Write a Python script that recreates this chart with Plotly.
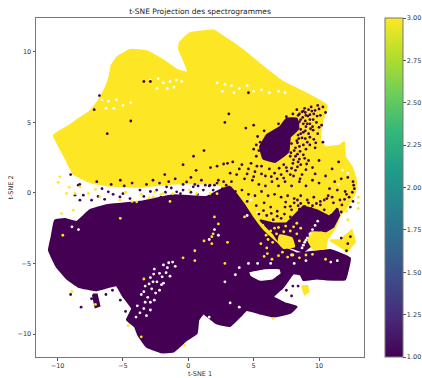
import plotly.graph_objects as go

# t-SNE clouds: outline vertices (x, y) in data units
yellow_outline = [(-10.28,4.08),(-9.06,4.79),(-8.29,5.3),(-7.5,5.8),(-6.9,6.5),(-6.3,7.5),(-6.0,8.33),(-5.87,9.03),(-5.43,9.62),
 (-4.46,10.14),(-3.19,10.05),(-1.91,9.39),(-0.89,8.73),(0.0,8.51),(-0.33,9.39),(-0.71,10.21),(-0.64,10.68),(0.13,11.32),
 (1.91,11.51),(2.93,10.92),(4.21,10.09),(5.74,8.92),(7.27,7.85),(9.06,7.03),(10.59,6.2),(10.2,4.91),(10.08,3.73),(10.46,3.25),
 (11.61,3.37),(11.91,3.61),(11.99,2.55),(12.5,1.84),(12.83,0.9),(12.76,0.0),(12.12,-0.99),(11.6,-1.6),(11.2,-2.5),(10.6,-3.3),
 (9.57,-3.82),(8.29,-3.94),(6.6,-3.7),(5.6,-2.8),(4.5,-1.6),(3.19,0.31),(1.9,0.67),(-1.15,0.67),(-3.7,0.43),(-6.25,0.55),(-7.52,0.78),(-8.8,1.37),
 (-9.44,2.55)]
purple_outline = [(-10.66,-4.06),(-10.45,-3.1),(-10.2,-1.95),(-9.44,-1.85),(-8.54,-2.05),(-7.52,-1.22),(-6.25,-0.87),(-3.7,-0.63),(-1.15,-0.16),(1.4,-0.28),
 (2.3,0.15),(3.19,0.43),(4.21,-0.75),(4.97,-1.82),(5.7,-2.7),(6.76,-3.58),(8.29,-4.29),(10.84,-4.05),(11.86,-4.4),(12.37,-4.64),
 (12.23,-5.35),(11.99,-6.13),(10.59,-6.13),(9.82,-6.06),(8.8,-6.18),(8.6,-5.8),(8.04,-5.7),
 (7.27,-6.65),(6.5,-7.36),(7.4,-7.83),(8.29,-8.07),(7.8,-8.5),(6.5,-8.77),(5.48,-8.54),(4.46,-8.3),(3.95,-8.77),(3.19,-9.43),
 (2.17,-9.25),(1.15,-8.54),(0.77,-9.0),(0.64,-9.95),(-0.13,-10.42),(-1.15,-11.25),(-2.04,-11.3),(-3.19,-10.9),(-3.83,-10.07),
 (-4.08,-9.48),(-4.7,-9.0),(-4.3,-8.2),(-5.0,-7.3),(-5.5,-6.55),(-7.0,-6.9),(-8.4,-6.65),(-9.3,-6.06),(-10.07,-5.23)]
purple_core = [(5.49,3.26),(6.0,4.09),(7.02,4.68),(7.53,5.27),(8.29,5.27),(8.42,4.56),(7.78,3.97),(7.65,2.91),(6.63,2.2),(5.74,2.44)]
purple_mid = [(5.49,-1.93),(6.51,-2.17),(7.53,-2.17),(8.29,-1.46),(8.8,-0.95),(9.82,-1.23),(10.84,-1.7),(11.4,-1.1),(11.55,-1.6),
 (11.1,-2.4),(10.46,-2.76),(10.08,-2.64),(9.57,-3.58),(8.8,-4.17),(8.04,-3.94),(7.02,-3.58),(6.51,-2.88)]
purple_hook = [(-7.3,-7.2),(-7.0,-7.2),(-6.8,-8.0),(-7.1,-8.1)]
yellow_patch = [(8.7,-6.6),(9.1,-6.6),(9.2,-7.0),(8.9,-7.2)]
yellow_blob_a = [(7.0,-3.0),(7.9,-3.2),(8.1,-3.8),(7.3,-3.9),(6.9,-3.5)]
yellow_blob_b = [(9.4,-2.8),(10.6,-2.9),(10.5,-3.9),(9.6,-4.0),(9.2,-3.4)]
yellow_hook = [(10.84,-3.35),(11.6,-3.35),(12.5,-2.64),(12.76,-3.47),(12.12,-4.17),(11.86,-3.94)]
purple_hole = [(4.59,-5.59),(4.72,-5.94),(5.48,-6.3),(6.5,-6.18),(7.14,-5.71),(7.02,-5.35),(5.74,-5.35)]

purple_dots = [(8.3,5.9),(8.9,6.0),(9.4,6.1),(9.9,6.2),(10.3,6.1),(10.5,5.7),(10.1,5.5),(9.6,5.6),(9.0,5.5),(8.6,5.2),(9.3,5.2),(9.8,5.0),
 (10.2,4.8),(9.5,4.7),(9.0,4.7),(8.6,4.5),(9.2,4.2),(9.9,4.2),(9.6,3.8),(9.1,3.6),(8.7,3.9),(8.5,3.3),(9.0,3.1),(9.7,3.2),(10.3,3.6),
 (8.8,2.7),(8.2,2.6),(8.0,2.1),(8.6,2.0),(9.2,2.3),(8.2,1.6),(7.8,1.3),(8.7,1.3),(9.5,1.8),(10.0,2.3),(7.5,1.8),(7.1,1.3),(6.6,1.4),
 (6.2,1.7),(5.9,1.2),(5.5,3.6),(5.3,4.0),(5.8,4.4),(6.9,4.9),(7.5,5.4),(8.0,5.6),(7.9,4.6),(8.4,5.5),(8.8,5.8),(9.2,5.9),(8.4,4.9),(8.8,4.9),
 (9.3,4.9),(8.4,4.1),(8.8,4.3),(8.3,3.7),(8.8,3.4),(7.9,3.5),(8.1,3.0),(7.8,2.6),(8.5,2.4),
 (8.5,5.6),(8.7,5.75),(8.95,5.7),(9.15,5.45),(9.45,5.8),(9.7,5.85),(9.85,5.45),(10.0,5.95),(9.3,5.55),(8.75,5.35),(8.5,5.05),(8.95,5.1),(9.1,4.9),(9.55,5.2),
 (9.35,4.55),(8.95,4.4),(8.6,4.2),(8.45,3.85),(8.95,3.85),(9.3,3.95),(9.55,4.45),(10.0,4.65),(9.75,3.55),(9.3,3.4),(8.35,3.55),(8.55,2.95),(8.2,3.2),(8.35,2.75),
 (8.05,2.35),(7.85,2.85),(8.4,2.2),(8.9,2.45),(9.05,2.05),(8.35,1.85),(7.9,1.75),(8.05,1.2),(7.55,1.55),(7.3,2.0),(6.95,1.75),(7.3,1.05),(6.8,1.0),(6.35,1.15),
 (8.55,1.0),(9.0,1.65),(9.7,1.35),(5.6,1.35),(5.25,1.9),(5.0,1.15),(4.5,1.35),(3.9,1.7),(4.8,2.1),(5.2,2.6),(5.0,3.1),(5.4,3.0),(5.2,3.4),
 (1.7,1.8),(2.2,1.9),(2.7,2.05),(3.0,2.1),(3.4,2.2),(0.4,2.6),(1.2,3.0),(2.8,5.0),(4.4,4.6),(5.0,4.8),(3.1,5.6),(4.6,7.1),(-2.9,7.9),(-3.4,7.9),
 (-6.8,6.9),(-7.2,5.9),(-4.4,5.1),(-6.2,4.2),(-5.2,0.9),(-7.0,0.8),(-8.3,0.6),(-9.0,1.3),(-1.8,1.3),(-0.4,2.0),(0.6,1.6),
 (-2.7,0.9),(-2.2,0.7),(-1.5,0.8),(-1.0,1.0),(-0.4,0.6),(0.2,1.1),(0.5,0.6),(1.0,0.9),(1.6,0.5),(2.2,0.7),(2.7,0.8),(3.3,0.8),(3.7,1.3),(3.2,1.4),
 (-8.67,-0.16),(-8.42,0.55),(-8.03,-0.16),(-7.4,-0.51),(-8.29,-0.51),(-7.52,-1.34),(-6.12,0.08),(-5.23,-0.28),(-3.7,0.2),(-4.46,-0.4),(-1.66,0.43),(-0.13,0.78),
 (0.38,0.43),(1.66,0.55),(-2.42,0.2),(-0.89,0.08),(1.15,0.2),(2.3,0.9),(-2.9,0.1),(-1.3,0.35),(-0.4,0.2),(0.75,0.5),(1.9,0.2),(2.6,0.3),(-6.6,0.3),(-5.9,0.6),(-4.9,0.5),(-4.3,0.7),(-3.2,0.6),
 (-6.9,-0.25),(-6.4,-0.45),(-5.75,-0.1),(-5.0,-0.05),(-3.4,-0.25),(-2.1,-0.3),(-1.75,0.05),(-0.6,-0.05),(0.2,0.05),(0.7,-0.1),(1.3,0.55),(2.0,0.55),(2.9,0.55),
 (4.1,2.0),(4.6,1.7),(5.1,1.5),(5.6,1.9),(4.3,1.0),(4.9,0.9),(5.4,0.6),(5.9,0.5),(6.4,0.8),(6.9,0.5),(7.4,0.8),(7.9,0.5),(8.5,0.8),(9.0,0.5),(9.5,0.9),(10.0,0.7),
 (10.5,1.2),(11.0,1.7),(11.5,2.2),(11.2,0.8),(11.7,1.0),(12.2,1.1),(12.6,0.8),(12.65,0.55),(12.7,0.3),(12.55,0.05),(10.8,0.3),(11.4,0.2),(12.0,0.1),
 (3.6,0.1),(4.1,0.2),(4.6,-0.1),(5.1,-0.2),(5.6,0.1),(6.1,-0.2),(6.6,-0.1),(7.1,-0.3),(7.6,-0.2),(8.1,-0.4),(8.6,-0.2),(9.1,-0.5),(9.6,-0.3),(10.1,-0.6),(10.6,-0.4),(11.1,-0.7),(11.6,-0.5),
 (8.1,-0.7),(8.35,-0.5),(8.6,-0.75),(8.9,-0.95),(9.2,-0.7),(9.5,-0.9),(9.8,-0.75),(10.1,-0.85),(10.4,-0.5),(10.7,-0.2),(11.0,-0.3),(8.5,-1.15),(7.8,-0.95),(7.45,-0.65),
 (4.5,-0.6),(5.2,-0.9),(5.8,-0.7),(6.3,-1.0),(6.8,-1.3),(7.4,-1.0),(7.9,-1.2),(8.4,-0.9),(8.9,-1.4),(9.4,-1.1),(9.9,-1.5),(10.4,-1.2),(10.9,-1.6),(11.4,-1.4),
 (6.0,-1.6),(6.5,-1.9),(7.1,-1.8),(7.6,-2.2),(5.4,-1.5),(5.75,-1.25),(6.35,-1.45),(6.8,-1.65),(7.35,-1.5),(7.8,-1.7),(12.4,-1.0),(12.6,-0.6),(12.3,-0.3),
 (11.75,-0.85),(11.95,-0.45),(12.1,-0.1),(11.7,-1.35),
 (12.2,-3.6),(12.4,-3.1),(12.1,-4.1),(11.7,-3.2),
 (-9.0,-7.2),(-8.2,-8.1),(-7.4,-7.5),(-6.3,-7.2),(-5.8,-6.9),(-5.2,-7.6),(-4.8,-8.4),(-4.6,-8.9),(7.9,-7.3),(7.5,-6.9),(7.1,-6.8),(8.0,-6.6),(8.4,-6.6)]
yellow_dots = [(4.3,-1.7),(2.0,-1.7),(1.9,-2.9),(2.3,-2.2),(1.8,-3.1),(1.2,-3.4),(0.5,-4.1),(-0.4,-4.6),(0.5,-4.8),(1.8,-3.6),
 (3.0,-3.5),(-5.2,-1.8),(-9.6,-3.0),(-3.4,-6.1),(-4.6,-9.4),(-3.6,-10.2),(-0.3,-10.8),(6.5,-8.9),(-7.1,-7.9),(-8.9,-7.0),
 (-9.82,1.14),(-9.31,-0.04),(-8.67,-0.04),(-9.69,-1.46),(-8.8,-1.22),(-7.65,-0.04),(-6.76,-0.28),(-5.23,-0.51),(-3.95,-0.63),(-2.68,-0.28),(-1.91,-0.04),(0.64,-0.04),(1.66,-0.04),(-2.55,0.08),(-8.3,0.43),
 (-9.95,0.75),(-9.1,0.4),(-7.1,0.25),(-4.8,0.05),(-3.0,-0.35),(-1.2,-0.05),(0.1,0.2),(2.2,-0.05),
 (6.3,-2.7),(6.0,-3.9),(5.8,-4.5),(6.4,-4.7),(7.2,-4.2),(8.0,-4.4),(9.0,-4.4),(10.5,-4.7),(5.7,-2.3),(5.95,-3.0),(6.6,-2.5),(6.1,-3.3),(7.3,-2.75),(6.75,-2.9),(7.8,-2.7),(8.3,-2.9),(8.6,-2.5),(8.5,-3.4),
 (5.55,-3.6),(5.95,-2.65),(6.45,-3.5),(6.9,-2.45),(7.45,-2.35),(8.05,-2.4),(8.3,-2.15),(6.05,-4.3),(6.9,-4.45),(7.6,-4.55),(8.5,-4.6),(9.5,-4.35),
 (13.0,-0.3),(13.0,-0.7),(13.0,-1.1),(12.2,-1.9),(12.1,-1.3),(11.9,-1.0),(-2.1,-0.1),(-1.4,-0.6),(-4.3,-0.6),(-3.6,-0.1),(2.8,-5.0)]
white_dots = [(-2.9,8.0),(-2.3,8.1),(-1.9,7.8),(-1.4,7.9),(-0.9,8.0),(-0.5,7.9),(-1.6,7.4),(-1.1,7.5),(-2.4,7.4),(2.2,7.8),(2.8,7.7),(3.3,7.6),(3.9,7.4),
 (4.5,7.6),(5.0,7.2),(5.6,7.3),(6.2,7.1),(6.9,7.2),(7.4,7.1),(2.6,7.2),(3.5,7.1),(-6.6,6.6),(-6.1,6.5),(-5.5,6.6),(-5.0,6.2),(-6.3,6.0),(-5.7,6.0),(-4.4,6.4),
 (-8.9,-2.4),(-8.4,-2.6),(1.6,-3.3),(2.3,-3.0),(2.0,-2.6),
 (-2.6,-5.4),(-2.2,-5.7),(-2.9,-6.0),(-2.4,-6.3),(-3.3,-6.6),(-2.8,-6.8),(-2.2,-6.9),(-3.6,-7.2),(-3.1,-7.4),(-2.6,-7.6),(-3.9,-8.0),(-3.4,-8.2),(-2.9,-8.3),(-4.0,-8.8),
 (-1.6,-5.3),(-1.2,-4.9),(-1.4,-5.9),(-1.9,-6.4),(3.6,-5.8),(2.8,-6.3),(3.2,-7.8),(3.9,-8.1),(1.6,-8.8),
 (-1.9,-5.1),(-1.5,-4.95),(-1.0,-5.2),(-2.0,-5.95),(-2.7,-6.3),(-3.0,-6.45),(-2.05,-6.5),(-2.5,-7.1),(-3.4,-7.0),(-2.9,-7.75),(-3.3,-7.75),(-3.7,-8.5),(-3.2,-8.7),(-2.65,-5.75),(-1.7,-5.65),
 (8.7,-3.9),(8.9,-3.5),(9.1,-3.2),(9.3,-2.9),(9.5,-2.6),(9.7,-2.3),(9.9,-2.0),(8.8,-3.7),(9.0,-3.35),(7.9,-4.4),(8.1,-5.0),(9.0,-4.8),(10.9,-4.9),(11.4,-4.8),
 (4.8,-0.5),(5.3,-1.4),(4.5,-1.6),(11.8,1.6),(12.2,1.4),(11.5,0.6),(6.3,-5.0),(5.3,-5.0),(4.6,-5.0),(3.9,-5.3)]


def closed(points):
    return ([p[0] for p in points] + [points[0][0]], [p[1] for p in points] + [points[0][1]])


PURPLE, YELLOW = "#440154", "#fde725"
fig = go.Figure()


def cloud(points, color, hole=None, smooth=False):
    xs, ys = closed(points)
    if hole:
        hx, hy = closed(hole)
        xs, ys = xs + [None] + hx, ys + [None] + hy
    line = dict(color=color, width=2)
    if smooth:
        line.update(shape="spline", smoothing=0.3)
    fig.add_trace(go.Scatter(x=xs, y=ys, mode="lines", fill="toself", fillcolor=color,
                             line=line, hoverinfo="skip", showlegend=False))


def dots(points, value, color=None):
    marker = dict(size=2.8, line=dict(width=0))
    if color:
        marker["color"] = color
    else:
        marker.update(color=[value] * len(points), coloraxis="coloraxis")
    fig.add_trace(go.Scatter(x=[p[0] for p in points], y=[p[1] for p in points], mode="markers",
                             marker=marker, showlegend=False))


cloud(yellow_outline, YELLOW, smooth=True)
cloud(purple_mid, PURPLE)
cloud(purple_outline, PURPLE, hole=purple_hole, smooth=True)
cloud(purple_core, PURPLE, smooth=True)
cloud(purple_hook, PURPLE)
cloud(yellow_patch, YELLOW)
cloud(yellow_blob_a, YELLOW, smooth=True)
cloud(yellow_blob_b, YELLOW, smooth=True)
cloud(yellow_hook, YELLOW)
dots(white_dots, None, "white")
dots(purple_dots, 1)
dots(yellow_dots, 3)

ticks = dict(ticks="outside", ticklen=2.5, tickwidth=0.7, tickcolor="#555", showline=True, linecolor="#777", linewidth=1,
             mirror=True, showgrid=False, zeroline=False, tickfont=dict(size=6.5, color="#333"), tickvals=[-10, -5, 0, 5, 10])
colorbar_ticks = [1, 1.25, 1.5, 1.75, 2, 2.25, 2.5, 2.75, 3]
fig.update_layout(
    width=422, height=378, autosize=False, margin=dict(l=36, r=58, t=17.5, b=21, autoexpand=False),
    paper_bgcolor="white", plot_bgcolor="white",
    font=dict(family="DejaVu Sans", color="#333"),
    title=dict(text="t-SNE Projection des spectrogrammes", x=200 / 422, xanchor="center", y=1 - 11 / 378, yanchor="middle", font=dict(size=7.5, color="#222")),
    xaxis=dict(range=[-11.65, 13.44], title=dict(text="t-SNE 1", font=dict(size=6.5, color="#333"), standoff=3), **ticks),
    yaxis=dict(range=[-11.63, 12.4], title=dict(text="t-SNE 2", font=dict(size=6.5, color="#333"), standoff=3), **ticks),
    coloraxis=dict(colorscale="Viridis", cmin=1, cmax=3, colorbar=dict(
        x=1.064, xanchor="left", thickness=17.7, thicknessmode="pixels",
        len=1, lenmode="fraction", y=0.5, yanchor="middle", xpad=0, ypad=0,
        outlinecolor="#777", outlinewidth=1, ticks="outside", ticklen=2.5, tickwidth=0.7, tickcolor="#555",
        tickvals=colorbar_ticks, tickformat=".2f", tickfont=dict(size=6.5, color="#333"))),
)
fig.write_html("out.html", config={"displayModeBar": False},
               post_script="document.body.style.margin='0';document.body.style.overflow='hidden';")
